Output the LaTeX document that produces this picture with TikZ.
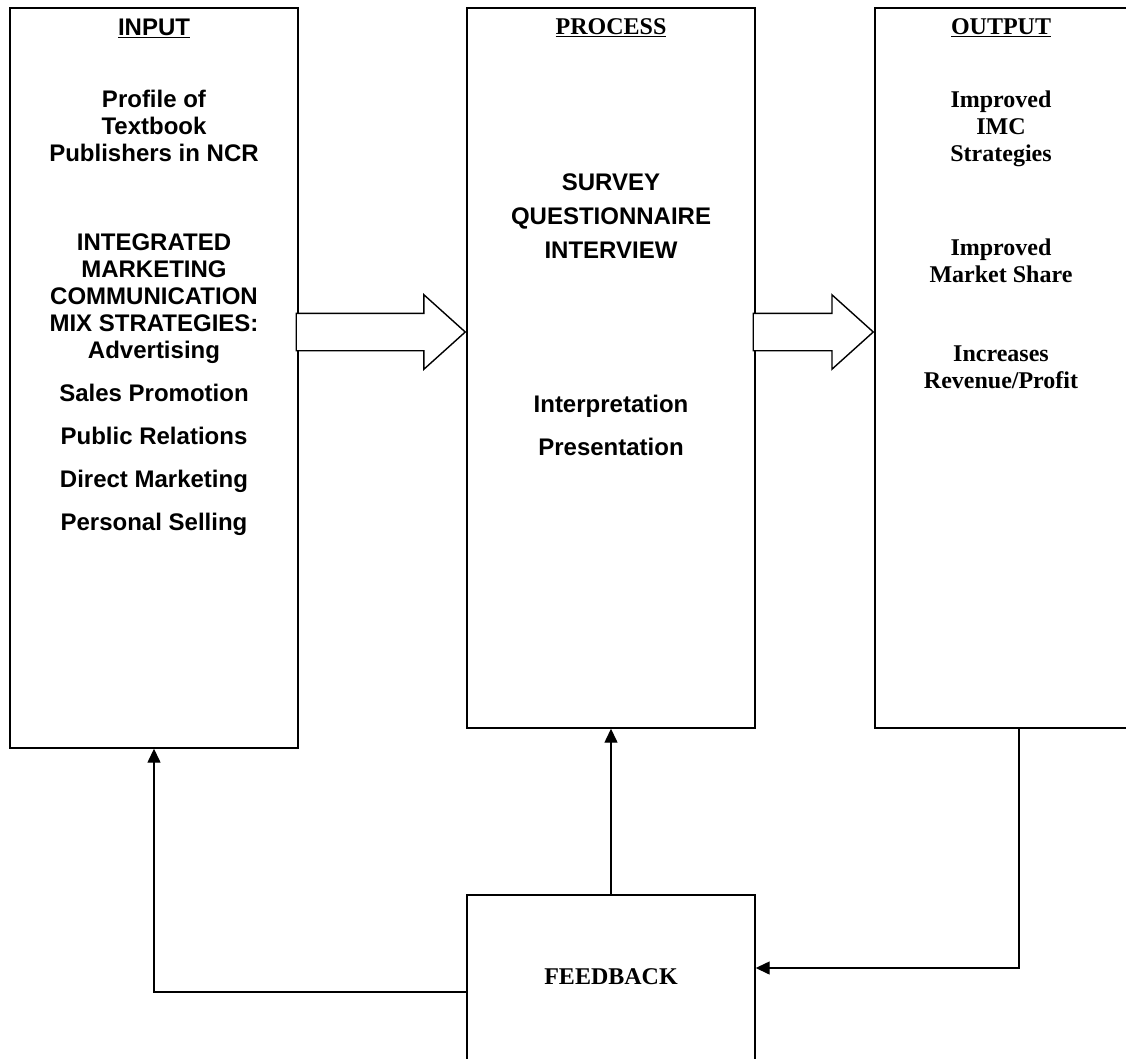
\documentclass[tikz,border=0pt]{standalone}
\usepackage{fontspec}
\setmainfont{Liberation Serif}
\setsansfont{Liberation Sans}
\usetikzlibrary{arrows.meta,positioning,shapes.arrows}

\begin{document}
\begin{tikzpicture}[x=1pt, y=-1pt, >={Triangle[length=14pt,width=13pt]},
  colbox/.style={draw, line width=1.4pt, minimum width=288pt, inner sep=0pt},
  fatarrow/.style={single arrow, draw, line width=1.4pt, fill=white,
    inner xsep=0pt, inner ysep=18pt, single arrow head extend=18.5pt,
    single arrow tip angle=84, anchor=tip},
  sanstxt/.style={font=\sffamily\bfseries\fontsize{24}{27}\selectfont,
    align=center, inner sep=0pt},
  sertxt/.style={font=\rmfamily\bfseries\fontsize{24}{27}\selectfont,
    align=center, inner sep=0pt},
  link/.style={->, line width=1.4pt}]
\useasboundingbox (0,0) rectangle (1126,1059);
\clip (0,0) rectangle (1126,1059);

% ---- columns ----
\node[colbox, minimum height=740pt] (inbox)   at (154,378) {};
\node[colbox, minimum height=720pt] (procbox) at (611,368) {};
\node[colbox, minimum height=720pt] (outbox)  at (1019,368) {};
\node[colbox, minimum height=180pt] (fbbox)   at (611,985) {};

% ---- row positions of the block arrows ----
\coordinate (rowA) at (0,332);

\node[fatarrow, minimum height=169pt] (arrA) at (procbox.west |- rowA) {};
\node[fatarrow, minimum height=120pt] (arrB) at (outbox.west |- rowA) {};

% ---- input text ----
\node[sanstxt] (inhead) at (154,28) {\underline{INPUT}};
\node[sanstxt] (inprof) at (154,126) {Profile of\\Textbook\\Publishers in NCR};
\node[sanstxt] (inmix)  at (154,385)
  {INTEGRATED\\MARKETING\\COMMUNICATION\\MIX STRATEGIES:\\Advertising\\[16pt]
   Sales Promotion\\[16pt]Public Relations\\[16pt]Direct Marketing\\[16pt]
   Personal Selling};

% ---- process text ----
\node[sertxt]  (prochead) at (611,28)  {\underline{PROCESS}};
\node[sanstxt] (procsurv) at (611,216) {SURVEY\\[7pt]QUESTIONNAIRE\\[7pt]INTERVIEW};
\node[sanstxt] (procint)  at (611,425) {Interpretation\\[16pt]Presentation};

% ---- output text ----
\node[sertxt] (outhead) at (1001,28)  {\underline{OUTPUT}};
\node[sertxt] (outimc)  at (1001,129) {Improved\\IMC\\Strategies};
\node[sertxt] (outmkt)  at (1001,261) {Improved\\Market Share};
\node[sertxt] (outrev)  at (1001,367) {Increases\\Revenue/Profit};

\node[sertxt] (fbtext) at (611,977) {FEEDBACK};

% ---- feedback loop ----
\draw[link] (fbbox.north) -- (procbox.south);
\draw[link] ([yshift=-7pt]fbbox.west) -| (inbox.south);
\draw[link] (outbox.south) |- ([yshift=17pt]fbbox.east);
\end{tikzpicture}
\end{document}
